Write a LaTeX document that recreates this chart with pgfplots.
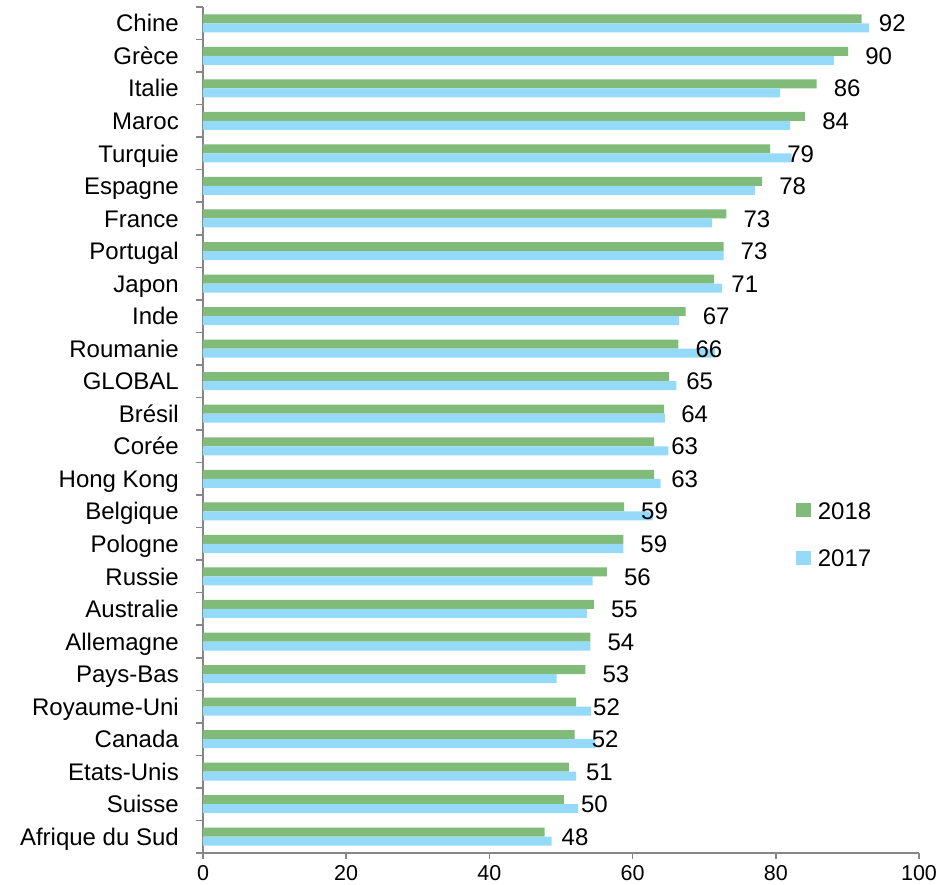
\documentclass[border=0pt]{standalone}
\usepackage{fontspec}
\setmainfont{Liberation Sans}
\usepackage{pgfplots}
\pgfplotsset{compat=1.18}
\usepackage{pgfplotstable}
\usetikzlibrary{calc}
\definecolor{g18}{RGB}{128,187,122}
\definecolor{b17}{RGB}{149,218,249}
\definecolor{axgray}{RGB}{134,134,134}

\pgfplotstableread{
idx g b lab
25 92.0 93.0 92
24 90.1 88.1 90
23 85.7 80.6 86
22 84.1 82.0 84
21 79.2 82.2 79
20 78.1 77.1 78
19 73.1 71.1 73
18 72.7 72.7 73
17 71.4 72.5 71
16 67.4 66.5 67
15 66.4 71.5 66
14 65.1 66.1 65
13 64.4 64.5 64
12 63.0 65.0 63
11 63.0 63.9 63
10 58.8 62.8 59
9 58.7 58.7 59
8 56.4 54.4 56
7 54.6 53.6 55
6 54.1 54.1 54
5 53.4 49.4 53
4 52.1 54.2 52
3 51.9 54.8 52
2 51.1 52.1 51
1 50.4 52.4 50
0 47.7 48.7 48
}\data

\begin{document}
\begin{tikzpicture}
\begin{axis}[
  name=ax,
  scale only axis, width=716pt, height=846pt,
  xmin=0, xmax=100, ymin=-0.5, ymax=25.5,
  xbar, bar width=9pt,
  axis x line*=bottom, axis y line*=left,
  axis line style={-, axgray, line width=1.5pt},
  xtick={0,20,...,100},
  ytick={0,...,25},
  yticklabels={Afrique du Sud,Suisse,Etats-Unis,Canada,Royaume-Uni,Pays-Bas,Allemagne,Australie,Russie,Pologne,Belgique,Hong Kong,Corée,Brésil,GLOBAL,Roumanie,Inde,Japon,Portugal,France,Espagne,Turquie,Maroc,Italie,Grèce,Chine},
  minor ytick={-0.5,0.5,...,25.5},
  tick align=outside,
  major tick length=6pt, minor tick length=7pt,
  tick style={axgray, line width=1.5pt},
  major y tick style={draw=none},
  yticklabel style={font=\fontsize{24}{28}\selectfont, text height=17.2pt, text depth=0pt, inner sep=0pt, xshift=-18pt},
  /pgf/number format/assume math mode=true,
  xticklabel style={font=\fontsize{21.5}{25}\selectfont, text height=15.4pt, text depth=0pt, inner sep=0pt, yshift=-6pt},
  legend style={draw=none, fill=none, at={(rel axis cs:0.828,0.377)}, anchor=west,
    inner sep=0pt, outer sep=0pt, font=\fontsize{24}{28}\selectfont,
    /tikz/row sep=30pt, /tikz/column sep=7pt,
    nodes={inner sep=0pt, text height=17.2pt, text depth=0pt}},
  legend cell align=left,
  legend image code/.code={\path[#1, draw=none] (0pt,-7pt) rectangle (15pt,7pt);},
]
\addplot[fill=g18, draw=none, bar shift=4.5pt,
  nodes near coords, point meta=explicit symbolic,
  every node near coord/.style={anchor=west, inner sep=0pt, xshift=17pt,
    text height=17.2pt, text depth=0pt, black, font=\fontsize{24}{28}\selectfont}]
  table[x=g, y=idx, meta=lab]{\data};
\addlegendentry{2018}
\addplot[fill=b17, draw=none, bar shift=-4.5pt]
  table[x=b, y=idx]{\data};
\addlegendentry{2017}
\end{axis}
\pgfresetboundingbox
\path ($(ax.south west)+(-203pt,-31pt)$) rectangle ($(ax.north east)+(23pt,7pt)$);
\end{tikzpicture}
\end{document}
